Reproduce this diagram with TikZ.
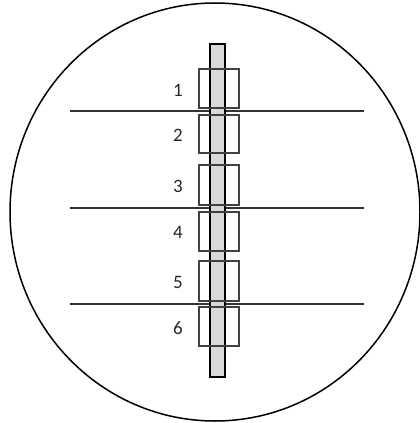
\documentclass[tikz,border=0pt]{standalone}
\usepackage{fontspec}
\setmainfont{Carlito}
\begin{document}
\begin{tikzpicture}[x=1pt,y=-1pt]
    \useasboundingbox (0,0) rectangle (420,423);
    \tikzset{
        cadre/.style={draw=black!75, line width=2.2pt},
        coupe/.style={draw=black!80, line width=2pt},
        chiffre/.style={font=\fontsize{19}{20}\selectfont, text=black!85, inner sep=0pt}
    }
    % champ (cercle)
    \draw[line width=1.5pt] (215,212) ellipse [x radius=205, y radius=209];
    % lignes de coupe
    \draw[coupe] (70,110.7) -- (364,110.7);
    \draw[coupe] (70,208) -- (364,208);
    \draw[coupe] (70,304) -- (364,304);
    % tige
    \draw[black, line width=1.8pt, fill=black!15] (210.3,44) rectangle (225.3,377);
    % cadres
    \draw[cadre] (198.7,68.7) rectangle (239.3,108.3);
    \draw[cadre] (198.7,114.7) rectangle (239.3,153.3);
    \draw[cadre] (198.7,165.3) rectangle (239.3,204.7);
    \draw[cadre] (198.7,211.7) rectangle (239.3,250.7);
    \draw[cadre] (198.7,261) rectangle (239.3,300.7);
    \draw[cadre] (198.7,306.7) rectangle (239.3,346);
    % numeros
    \node[chiffre] (n1) at (178,90) {1};
    \node[chiffre] (n2) at (178,135) {2};
    \node[chiffre] (n3) at (178,186) {3};
    \node[chiffre] (n4) at (178,232.7) {4};
    \node[chiffre] (n5) at (178,282) {5};
    \node[chiffre] (n6) at (178,327.7) {6};
\end{tikzpicture}
\end{document}
